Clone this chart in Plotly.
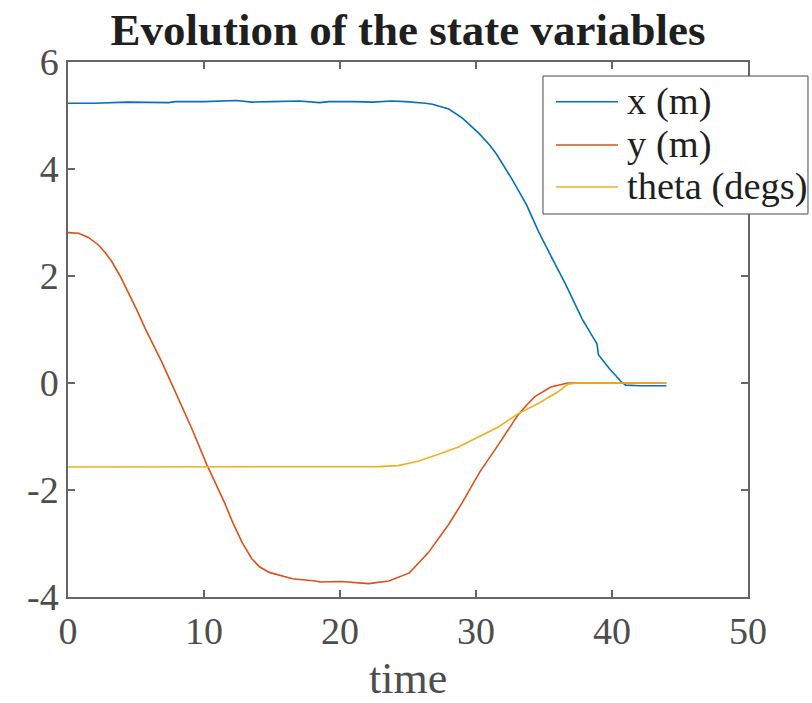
import plotly.graph_objects as go

# x position (m)
t_x = [0, 2, 4.3, 7.4, 7.9, 10, 12.4, 13.5, 15, 17, 18.5, 19.2, 21, 22.4, 23.8,
       24.8, 26.3, 26.8, 28.0, 29.0, 30.2, 31.0, 31.5, 32.6, 33.7, 34.6, 35.6,
       36.6, 37.8, 38.9, 39.0, 39.8, 40.7, 41.0, 42, 43, 44]
x_m = [5.23, 5.23, 5.25, 5.24, 5.26, 5.26, 5.28, 5.25, 5.26, 5.27, 5.24, 5.26,
       5.26, 5.25, 5.27, 5.26, 5.23, 5.21, 5.12, 4.95, 4.67, 4.45, 4.28, 3.83,
       3.34, 2.83, 2.33, 1.84, 1.20, 0.73, 0.53, 0.27, 0.02, -0.04, -0.05,
       -0.05, -0.05]

# y position (m)
t_y = [0, 0.77, 1.5, 2.24, 2.73, 3.22, 3.83, 4.44, 5.05, 5.67, 6.9, 7.9, 9.1,
       10.2, 11.5, 12.1, 12.8, 13.5, 14.1, 14.8, 16.5, 18.2, 18.5, 20.1, 22.1,
       23.6, 25.1, 26.5, 28.0, 29.0, 30.26, 31.6, 33.08, 33.7, 34.3, 35.5,
       36.75, 38, 40, 42, 44]
y_m = [2.81, 2.80, 2.72, 2.58, 2.44, 2.27, 2.00, 1.70, 1.37, 1.02, 0.39, -0.17,
       -0.85, -1.52, -2.23, -2.60, -2.98, -3.28, -3.44, -3.54, -3.66, -3.70,
       -3.72, -3.71, -3.75, -3.70, -3.55, -3.17, -2.64, -2.23, -1.67, -1.17,
       -0.60, -0.42, -0.26, -0.075, 0.0, 0.0, 0.0, 0.0, 0.0]

# heading
t_th = [0, 5, 10, 15, 20, 22.8, 24.27, 25.73, 27.2, 28.67, 30.14, 31.61,
        33.08, 34.54, 36.01, 36.75, 37.48, 40, 42, 44]
theta = [-1.57, -1.57, -1.57, -1.57, -1.57, -1.563, -1.544, -1.463, -1.338,
         -1.201, -1.013, -0.826, -0.576, -0.388, -0.169, -0.024, 0.0, 0.0,
         0.0, 0.0]

x_ticks = [0, 10, 20, 30, 40, 50]
y_ticks = [-4, -2, 0, 2, 4, 6]

names = ["x (m)", "y (m)", "theta (degs)"]
colors = ["#0072BD", "#D95319", "#EDB120"]

serif = "Liberation Serif, Times New Roman, serif"
axis_col = "#666666"
tick_col = "#4d4d4d"
text_col = "#1f1f1f"

fig = go.Figure()
for tt, vv, nm, col in zip([t_x, t_y, t_th], [x_m, y_m, theta], names, colors):
    fig.add_trace(go.Scatter(x=tt, y=vv, mode="lines", name=nm,
                             line=dict(color=col, width=1.6),
                             showlegend=False))

axis_common = dict(showgrid=False, zeroline=False, showline=True,
                   linecolor=axis_col, linewidth=1.5, mirror="ticks",
                   ticks="inside", ticklen=7, tickcolor=axis_col, tickwidth=1.5,
                   tickfont=dict(family=serif, size=38, color=tick_col))

# legend box, drawn in paper coordinates (it pokes out past the right edge)
leg_x0, leg_x1, leg_y0, leg_y1 = 0.6985, 1.0882, 0.7159, 0.9738
row_y = [0.9258, 0.8449, 0.7664]
shapes = [dict(type="rect", xref="paper", yref="paper",
               x0=leg_x0, x1=leg_x1, y0=leg_y0, y1=leg_y1,
               line=dict(color="#4a4a4a", width=1), fillcolor="white",
               layer="above")]
annotations = []
for nm, col, ry in zip(names, colors, row_y):
    shapes.append(dict(type="line", xref="paper", yref="paper",
                       x0=0.7176, x1=0.8088, y0=ry, y1=ry,
                       line=dict(color=col, width=1.6), layer="above"))
    annotations.append(dict(text=nm, xref="paper", yref="paper",
                            x=0.8191, y=ry, xanchor="left", yanchor="middle",
                            showarrow=False,
                            font=dict(family=serif, size=38.5, color=text_col)))

# x-axis label
annotations.append(dict(text="time", xref="paper", yref="paper",
                        x=0.5, y=-0.152, xanchor="center", yanchor="middle",
                        showarrow=False,
                        font=dict(family=serif, size=44, color=tick_col)))

fig.update_layout(
    width=812, height=703,
    margin=dict(l=68, r=64, t=62, b=106),
    paper_bgcolor="white", plot_bgcolor="white",
    title=dict(text="<b>Evolution of the state variables</b>",
               x=0.5, xref="paper", y=0.958, yref="container",
               xanchor="center", yanchor="middle",
               font=dict(family=serif, size=45, color=text_col)),
    xaxis=dict(range=[0, 50], tickvals=x_ticks,
               ticktext=[str(v) for v in x_ticks], **axis_common),
    yaxis=dict(range=[-4, 6], tickvals=y_ticks,
               ticktext=[str(v) for v in y_ticks], **axis_common),
    shapes=shapes,
    annotations=annotations,
    showlegend=False,
)

fig.write_html("out.html")
